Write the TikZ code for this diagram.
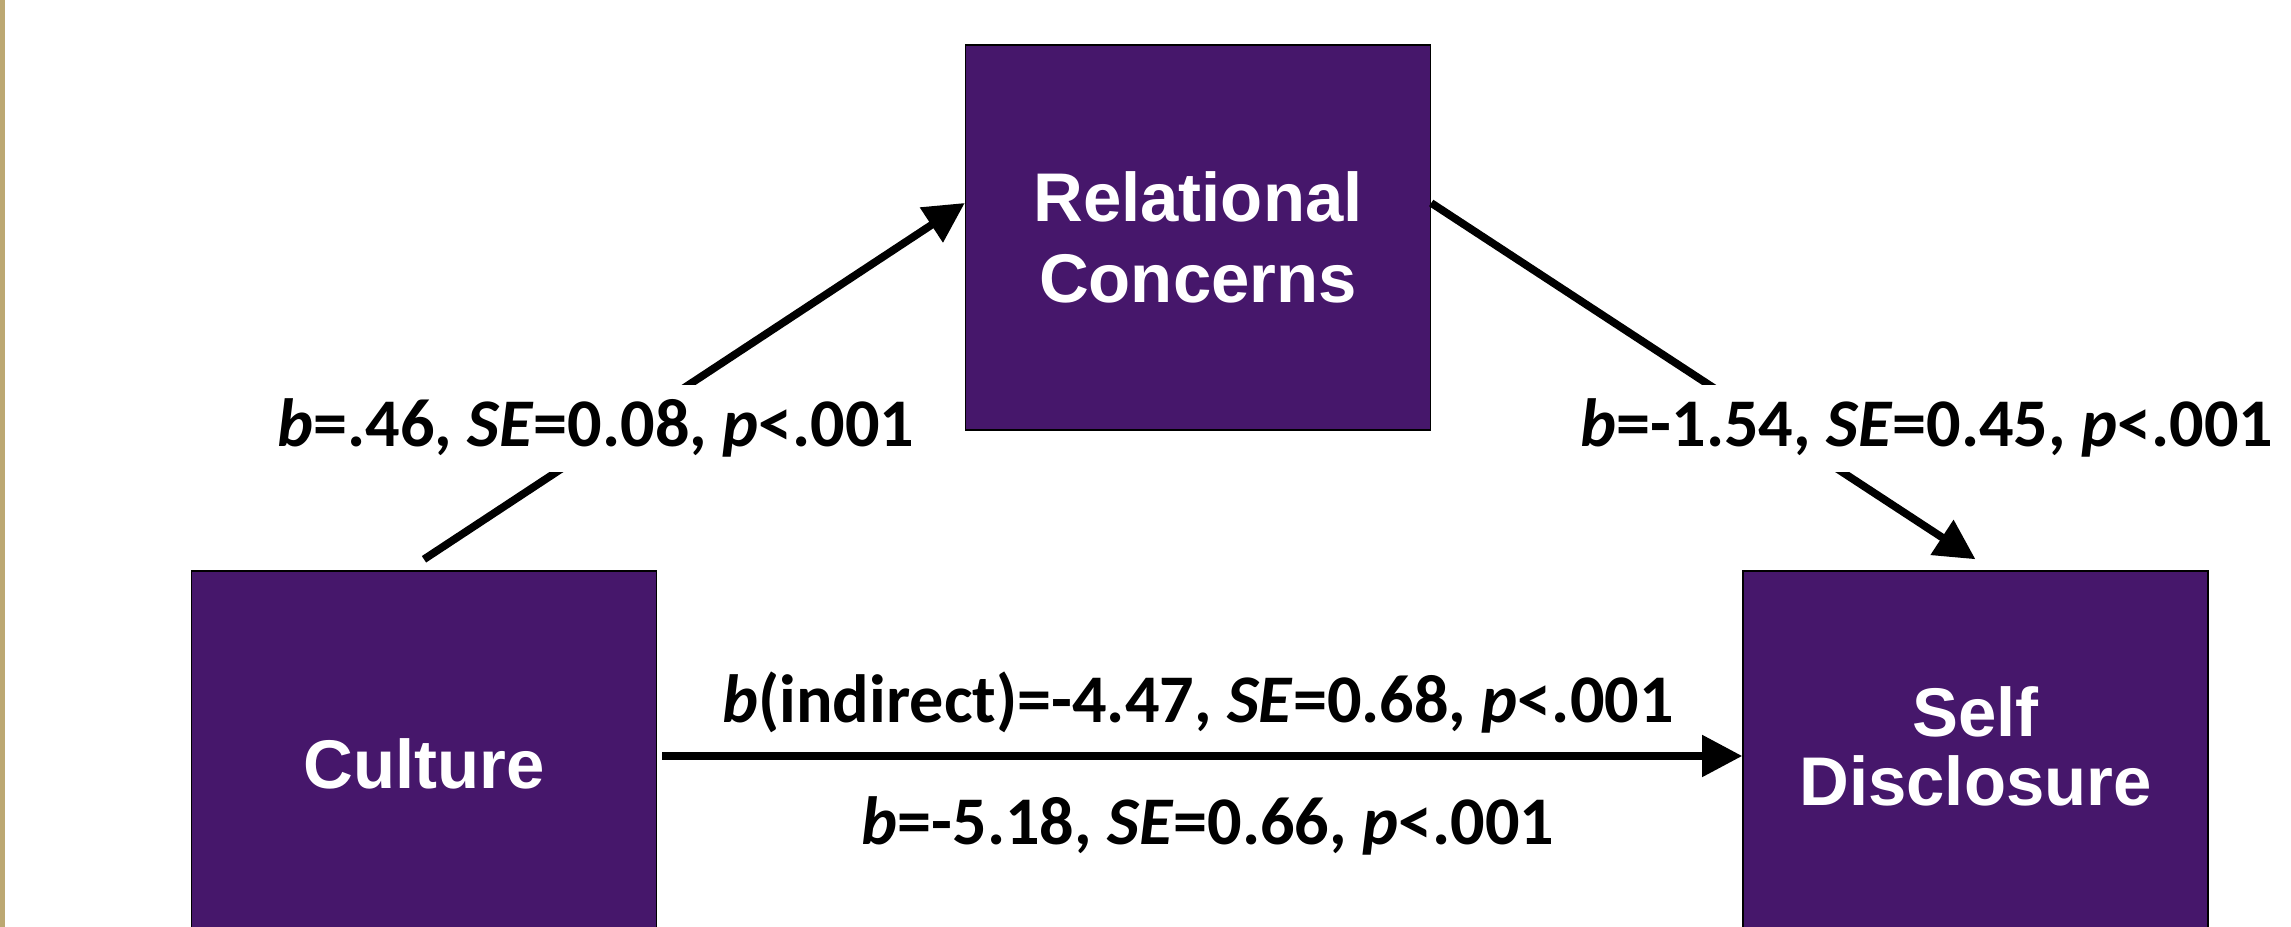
\documentclass[tikz,border=0pt]{standalone}
\usepackage{fontspec}
\setmainfont{Carlito}
\newfontfamily\boxfont{Liberation Sans}
\usetikzlibrary{arrows.meta}
\definecolor{uwpurple}{RGB}{70,23,107}
\definecolor{goldline}{RGB}{188,168,114}

\begin{document}
\begin{tikzpicture}
	\useasboundingbox (0,0) rectangle (22.91,9.27);
	\clip (0,0) rectangle (22.91,9.27);
	\fill[goldline] (0,0) rectangle (0.05,9.27);
	\begin{scope}[every node/.style = {rectangle, draw=black, thin, fill=uwpurple,
		text=white, minimum width=4.65cm, minimum height=3.85cm, align=center,
		font=\boxfont\bfseries\fontsize{19.6}{23}\selectfont}]
		\node (rel) at (11.98,6.895) {Relational\\Concerns};
		\node (cult) at (4.24,1.635) {Culture};
		\node[font=\boxfont\bfseries\fontsize{19.6}{17.8}\selectfont] (self) at (19.755,1.635)
			{\raisebox{-2.8pt}[0pt][0pt]{\begin{tabular}{@{}c@{}}Self\\Disclosure\end{tabular}}};
	\end{scope}
	\begin{scope}[>={Triangle[length=11.4pt,width=11.4pt]},
			every edge/.style={draw=black, line width=2.2pt}]
		\path [->] ([yshift=1.1mm]cult.north) edge ([yshift=3.45mm]rel.west);
		\path [->] ([yshift=3.45mm]rel.east) edge ([yshift=1.1mm]self.north);
		\path [->] ([shift={(0.5mm,0.75mm)}]cult.east) edge ([yshift=0.75mm]self.west);
	\end{scope}
	\begin{scope}[every node/.style = {fill=white, inner sep=4pt, anchor=base,
		font=\bfseries\fontsize{19.4}{23}\selectfont}]
		\node (cultrel) at (5.96,4.80) {\textit{b}=.46, \textit{SE}=0.08, \textit{p}<.001};
		\node (relself) at (19.27,4.80) {\textit{b}=-1.54, \textit{SE}=0.45, \textit{p}<.001};
		\node (indir) at (11.98,2.04) {\textit{b}(indirect)=-4.47, \textit{SE}=0.68, \textit{p}<.001};
		\node (direct) at (12.08,0.825) {\textit{b}=-5.18, \textit{SE}=0.66, \textit{p}<.001};
	\end{scope}
\end{tikzpicture}
\end{document}
